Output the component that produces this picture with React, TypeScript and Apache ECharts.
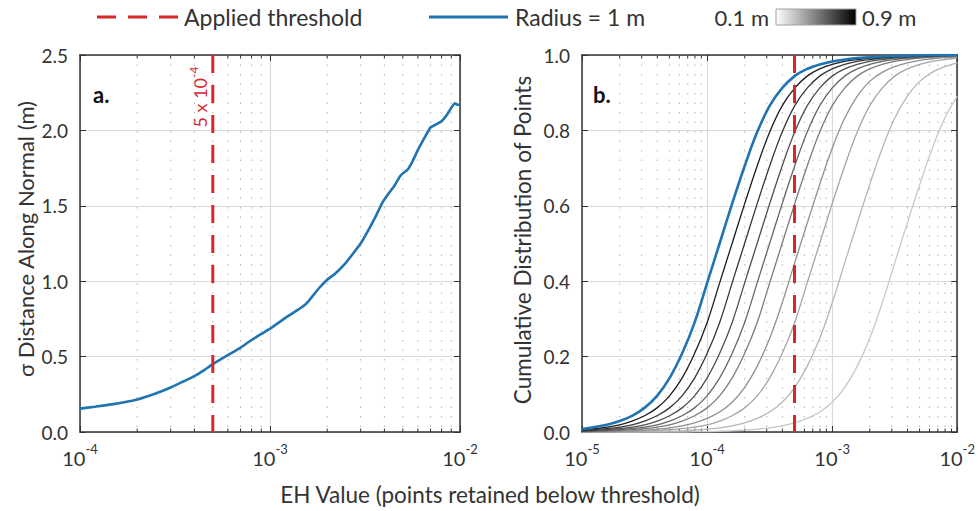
import React, { useEffect, useRef } from "react";
import * as echarts from "echarts";

// ---------- Panel a: sigma distance vs EH value ----------
const sigmaEH = [
  1.0e-4, 1.2e-4, 1.5e-4, 2.0e-4, 2.5e-4, 3.0e-4, 3.5e-4, 4.0e-4, 4.5e-4, 5.0e-4,
  6.0e-4, 7.0e-4, 8.0e-4, 9.0e-4, 1.0e-3, 1.2e-3, 1.4e-3, 1.5e-3, 1.6e-3, 1.8e-3,
  2.0e-3, 2.2e-3, 2.5e-3, 2.8e-3, 3.0e-3, 3.3e-3, 3.6e-3, 3.9e-3, 4.2e-3, 4.5e-3,
  4.8e-3, 5.0e-3, 5.3e-3, 5.6e-3, 6.0e-3, 6.5e-3, 7.0e-3, 7.5e-3, 8.0e-3, 8.5e-3,
  9.0e-3, 9.4e-3, 9.7e-3, 1.0e-2,
];
const sigmaVal = [
  0.155, 0.168, 0.185, 0.215, 0.255, 0.295, 0.335, 0.37, 0.41, 0.45,
  0.51, 0.56, 0.61, 0.65, 0.685, 0.755, 0.81, 0.835, 0.87, 0.95,
  1.01, 1.05, 1.12, 1.2, 1.25, 1.34, 1.43, 1.52, 1.58, 1.63,
  1.69, 1.715, 1.74, 1.79, 1.87, 1.95, 2.02, 2.04, 2.06, 2.1,
  2.15, 2.18, 2.17, 2.17,
];

// ---------- Panel b: cumulative distributions ----------
// log10(EH) positions where the curves were read
const cdfExp = [
  -5.0, -4.9, -4.8, -4.7, -4.6, -4.5, -4.4, -4.3, -4.2, -4.1,
  -4.0, -3.9, -3.8, -3.7, -3.6, -3.5, -3.4, -3.3, -3.2, -3.1,
  -3.0, -2.9, -2.8, -2.7, -2.6, -2.5, -2.4, -2.3, -2.2, -2.1, -2.0,
];
const cdfR10 = [0.008, 0.013, 0.019, 0.029, 0.043, 0.064, 0.096, 0.143, 0.208, 0.29, 0.395, 0.50, 0.605, 0.705, 0.795, 0.865, 0.912, 0.944, 0.963, 0.975, 0.983, 0.988, 0.992, 0.994, 0.996, 0.997, 0.998, 0.999, 1.0, 1.0, 1.0];
const cdfR09 = [0.006, 0.009, 0.013, 0.019, 0.029, 0.043, 0.064, 0.096, 0.143, 0.208, 0.29, 0.395, 0.50, 0.605, 0.705, 0.795, 0.865, 0.912, 0.944, 0.963, 0.975, 0.983, 0.988, 0.992, 0.994, 0.996, 0.997, 0.998, 0.999, 1.0, 1.0];
const cdfR08 = [0.004, 0.006, 0.009, 0.013, 0.019, 0.029, 0.043, 0.064, 0.096, 0.143, 0.208, 0.29, 0.395, 0.50, 0.605, 0.705, 0.795, 0.865, 0.912, 0.944, 0.963, 0.975, 0.983, 0.988, 0.992, 0.994, 0.996, 0.997, 0.998, 0.999, 1.0];
const cdfR07 = [0.0025, 0.004, 0.006, 0.009, 0.013, 0.019, 0.029, 0.043, 0.064, 0.096, 0.143, 0.208, 0.29, 0.395, 0.50, 0.605, 0.705, 0.795, 0.865, 0.912, 0.944, 0.963, 0.975, 0.983, 0.988, 0.992, 0.994, 0.996, 0.997, 0.998, 0.999];
const cdfR06 = [0.0015, 0.0025, 0.004, 0.006, 0.009, 0.013, 0.019, 0.029, 0.043, 0.064, 0.096, 0.143, 0.208, 0.29, 0.395, 0.50, 0.605, 0.705, 0.795, 0.865, 0.912, 0.944, 0.963, 0.975, 0.983, 0.988, 0.992, 0.994, 0.996, 0.997, 0.998];
const cdfR05 = [0.001, 0.0015, 0.0025, 0.004, 0.006, 0.009, 0.013, 0.019, 0.029, 0.043, 0.064, 0.096, 0.143, 0.208, 0.29, 0.395, 0.50, 0.605, 0.705, 0.795, 0.865, 0.912, 0.944, 0.963, 0.975, 0.983, 0.988, 0.992, 0.994, 0.996, 0.997];
const cdfR04 = [0, 0.001, 0.0012, 0.002, 0.003, 0.005, 0.0075, 0.011, 0.016, 0.024, 0.036, 0.053, 0.079, 0.118, 0.174, 0.248, 0.342, 0.448, 0.553, 0.656, 0.752, 0.832, 0.89, 0.93, 0.954, 0.969, 0.979, 0.986, 0.99, 0.993, 0.995];
const cdfR03 = [0, 0, 0.0005, 0.001, 0.0015, 0.0025, 0.004, 0.006, 0.009, 0.013, 0.019, 0.029, 0.043, 0.064, 0.096, 0.143, 0.208, 0.29, 0.395, 0.50, 0.605, 0.705, 0.795, 0.865, 0.912, 0.944, 0.963, 0.975, 0.983, 0.988, 0.992];
const cdfR02 = [0, 0, 0, 0, 0, 0.001, 0.0012, 0.002, 0.003, 0.005, 0.0075, 0.011, 0.016, 0.024, 0.036, 0.053, 0.079, 0.118, 0.174, 0.248, 0.342, 0.448, 0.553, 0.656, 0.752, 0.832, 0.89, 0.93, 0.954, 0.969, 0.979];
const cdfR01 = [0, 0, 0, 0, 0, 0, 0, 0, 0, 0.001, 0.0012, 0.002, 0.003, 0.005, 0.0075, 0.011, 0.016, 0.024, 0.036, 0.053, 0.079, 0.118, 0.174, 0.248, 0.342, 0.448, 0.553, 0.656, 0.752, 0.832, 0.89];

const grayCurves = [cdfR01, cdfR02, cdfR03, cdfR04, cdfR05, cdfR06, cdfR07, cdfR08, cdfR09];
const grayNames = ["0.1 m", "0.2 m", "0.3 m", "0.4 m", "0.5 m", "0.6 m", "0.7 m", "0.8 m", "0.9 m"];
const grayColors = ["#c8c8c8", "#b7b7b7", "#a5a5a5", "#919191", "#7c7c7c", "#666666", "#4e4e4e", "#363636", "#1c1c1c"];

const threshold = 5e-4;

// minor (2..9) decade positions for the dotted grid
const minorA = [2e-4, 3e-4, 4e-4, 5e-4, 6e-4, 7e-4, 8e-4, 9e-4, 2e-3, 3e-3, 4e-3, 5e-3, 6e-3, 7e-3, 8e-3, 9e-3];
const minorB = [2e-5, 3e-5, 4e-5, 5e-5, 6e-5, 7e-5, 8e-5, 9e-5, 2e-4, 3e-4, 4e-4, 5e-4, 6e-4, 7e-4, 8e-4, 9e-4, 2e-3, 3e-3, 4e-3, 5e-3, 6e-3, 7e-3, 8e-3, 9e-3];

const FONT = 'Lato, "Noto Sans", sans-serif';
const TXT = "#333333";
const AX = "#333333";
const BLUE = "#1f74b1";
const RED = "#d9262b";

const expFormatter = (v: number) => {
  const e = Math.round(Math.log10(v));
  return "{b|10}{s|" + String(e) + "}";
};
const expRich = {
  b: { fontSize: 20, fontFamily: FONT, color: TXT, lineHeight: 26, verticalAlign: "bottom" },
  s: { fontSize: 13, fontFamily: FONT, color: TXT, lineHeight: 26, verticalAlign: "top" },
};

function minorSeries(xi: number, yi: number, vals: number[], yMin: number, yMax: number) {
  return {
    type: "custom",
    xAxisIndex: xi,
    yAxisIndex: yi,
    silent: true,
    z: 1,
    encode: { x: 0, y: 1 },
    data: vals.map((v) => [v, yMin]),
    renderItem: (_p: any, api: any) => {
      const x = api.value(0);
      const top = api.coord([x, yMax]);
      const bot = api.coord([x, yMin]);
      return {
        type: "group",
        children: [
          { type: "line", shape: { x1: top[0], y1: top[1], x2: bot[0], y2: bot[1] }, style: { stroke: "#b4b4b4", lineWidth: 1, lineDash: [1.5, 8] } },
          { type: "line", shape: { x1: top[0], y1: top[1], x2: top[0], y2: top[1] + 3.5 }, style: { stroke: AX, lineWidth: 1 } },
          { type: "line", shape: { x1: bot[0], y1: bot[1], x2: bot[0], y2: bot[1] - 3.5 }, style: { stroke: AX, lineWidth: 1 } },
        ],
      };
    },
  };
}

function xAxes(grid: number, min: number, max: number) {
  const common = {
    gridIndex: grid,
    type: "log",
    logBase: 10,
    min,
    max,
    axisLine: { show: true, onZero: false, lineStyle: { color: AX, width: 1.5 } },
    axisTick: { show: true, inside: true, length: 6, lineStyle: { color: AX, width: 1 } },
    minorTick: { show: false },
    minorSplitLine: { show: false },
  };
  return [
    {
      ...common,
      position: "bottom",
      axisLabel: { show: true, formatter: expFormatter, rich: expRich, margin: 10, hideOverlap: false, showMinLabel: true, showMaxLabel: true },
      splitLine: { show: true, lineStyle: { color: "#dadada", width: 1.2 } },
    },
    {
      ...common,
      position: "top",
      axisLabel: { show: false },
      splitLine: { show: false },
    },
  ];
}

function yAxes(grid: number, max: number, interval: number) {
  const common = {
    gridIndex: grid,
    type: "value",
    min: 0,
    max,
    interval,
    axisLine: { show: true, lineStyle: { color: AX, width: 1.5 } },
    axisTick: { show: true, inside: true, length: 6, lineStyle: { color: AX, width: 1 } },
  };
  return [
    {
      ...common,
      position: "left",
      axisLabel: { show: true, formatter: (v: number) => v.toFixed(1), fontSize: 19, fontFamily: FONT, color: TXT, margin: 12 },
      splitLine: { show: true, lineStyle: { color: "#dadada", width: 1.2 } },
    },
    {
      ...common,
      position: "right",
      axisLabel: { show: false },
      splitLine: { show: false },
    },
  ];
}

export default function App() {
  const ref = useRef<HTMLDivElement>(null);
  useEffect(() => {
    if (!ref.current) return;
    const chart = echarts.init(ref.current, undefined, { renderer: "svg" });

    const graySeries = grayCurves.map((arr, i) => ({
      name: grayNames[i],
      type: "line",
      xAxisIndex: 2,
      yAxisIndex: 2,
      showSymbol: false,
      smooth: 0.4,
      z: 3,
      lineStyle: { color: grayColors[i], width: 1.3 },
      data: cdfExp.map((e, k) => [Math.pow(10, e), arr[k]]),
    }));

    const option: any = {
      animation: false,
      backgroundColor: "#ffffff",
      textStyle: { fontFamily: FONT },
      grid: [
        { left: 80, top: 55, width: 380, height: 377 },
        { left: 582, top: 55, width: 379, height: 377 },
      ],
      xAxis: [...xAxes(0, 1e-4, 1e-2), ...xAxes(1, 1e-5, 1e-2)],
      yAxis: [...yAxes(0, 2.5, 0.5), ...yAxes(1, 1.0, 0.2)],
      series: [
        minorSeries(0, 0, minorA, 0, 2.5),
        minorSeries(2, 2, minorB, 0, 1.0),
        {
          name: "σ Distance Along Normal",
          type: "line",
          xAxisIndex: 0,
          yAxisIndex: 0,
          showSymbol: false,
          smooth: 0.15,
          z: 4,
          lineStyle: { color: BLUE, width: 2.6 },
          data: sigmaEH.map((x, i) => [x, sigmaVal[i]]),
        },
        {
          name: "Applied threshold",
          type: "line",
          xAxisIndex: 0,
          yAxisIndex: 0,
          showSymbol: false,
          z: 5,
          lineStyle: { color: RED, width: 3, type: [18, 12] },
          data: [[threshold, 2.5], [threshold, 0]],
        },
        ...graySeries,
        {
          name: "Radius = 1 m",
          type: "line",
          xAxisIndex: 2,
          yAxisIndex: 2,
          showSymbol: false,
          smooth: 0.4,
          z: 4,
          lineStyle: { color: BLUE, width: 2.6 },
          data: cdfExp.map((e, k) => [Math.pow(10, e), cdfR10[k]]),
        },
        {
          name: "Applied threshold",
          type: "line",
          xAxisIndex: 2,
          yAxisIndex: 2,
          showSymbol: false,
          z: 5,
          lineStyle: { color: RED, width: 3, type: [18, 12] },
          data: [[threshold, 1.0], [threshold, 0]],
        },
      ],
      graphic: [
        // legend
        { type: "line", shape: { x1: 97, y1: 17, x2: 178, y2: 17 }, style: { stroke: RED, lineWidth: 3, lineDash: [19, 12] } },
        { type: "text", x: 184, y: 17, style: { text: "Applied threshold", fill: TXT, font: `23px ${FONT}`, align: "left", verticalAlign: "middle" } },
        { type: "line", shape: { x1: 429, y1: 17, x2: 508, y2: 17 }, style: { stroke: BLUE, lineWidth: 3 } },
        { type: "text", x: 515, y: 17, style: { text: "Radius = 1 m", fill: TXT, font: `23px ${FONT}`, align: "left", verticalAlign: "middle" } },
        { type: "text", x: 769, y: 17, style: { text: "0.1 m", fill: TXT, font: `22px ${FONT}`, align: "right", verticalAlign: "middle" } },
        {
          type: "rect",
          shape: { x: 776, y: 9, width: 80, height: 16 },
          style: {
            fill: new echarts.graphic.LinearGradient(0, 0, 1, 0, [
              { offset: 0, color: "#ffffff" },
              { offset: 1, color: "#000000" },
            ]),
            stroke: "#a0a0a0",
            lineWidth: 1,
          },
        },
        { type: "text", x: 862, y: 17, style: { text: "0.9 m", fill: TXT, font: `22px ${FONT}`, align: "left", verticalAlign: "middle" } },
        // panel letters
        { type: "text", x: 93, y: 83, style: { text: "a.", fill: "#111", font: `bold 22px ${FONT}`, align: "left", verticalAlign: "alphabetic" } },
        { type: "text", x: 593, y: 83, style: { text: "b.", fill: "#111", font: `bold 22px ${FONT}`, align: "left", verticalAlign: "alphabetic" } },
        // threshold annotation
        {
          type: "text",
          x: 198,
          y: 97,
          rotation: Math.PI / 2,
          style: {
            text: "{n|5 x 10}{s|-4}",
            align: "center",
            verticalAlign: "middle",
            rich: {
              n: { fontSize: 18, fontFamily: FONT, fill: RED, color: RED, lineHeight: 22, verticalAlign: "bottom" },
              s: { fontSize: 12, fontFamily: FONT, fill: RED, color: RED, lineHeight: 22, verticalAlign: "top" },
            },
          },
        },
        // axis titles
        { type: "text", x: 25, y: 239, rotation: Math.PI / 2, style: { text: "σ Distance Along Normal (m)", fill: TXT, font: `22px ${FONT}`, align: "center", verticalAlign: "middle" } },
        { type: "text", x: 522, y: 240, rotation: Math.PI / 2, style: { text: "Cumulative Distribution of Points", fill: TXT, font: `22.5px ${FONT}`, align: "center", verticalAlign: "middle" } },
        { type: "text", x: 490, y: 494, style: { text: "EH Value (points retained below threshold)", fill: TXT, font: `22.5px ${FONT}`, align: "center", verticalAlign: "middle" } },
      ],
    };
    chart.setOption(option);
    return () => chart.dispose();
  }, []);
  return <div ref={ref} style={{ position: "absolute", left: 0, top: 0, width: 978, height: 511, background: "#fff" }} />;
}
